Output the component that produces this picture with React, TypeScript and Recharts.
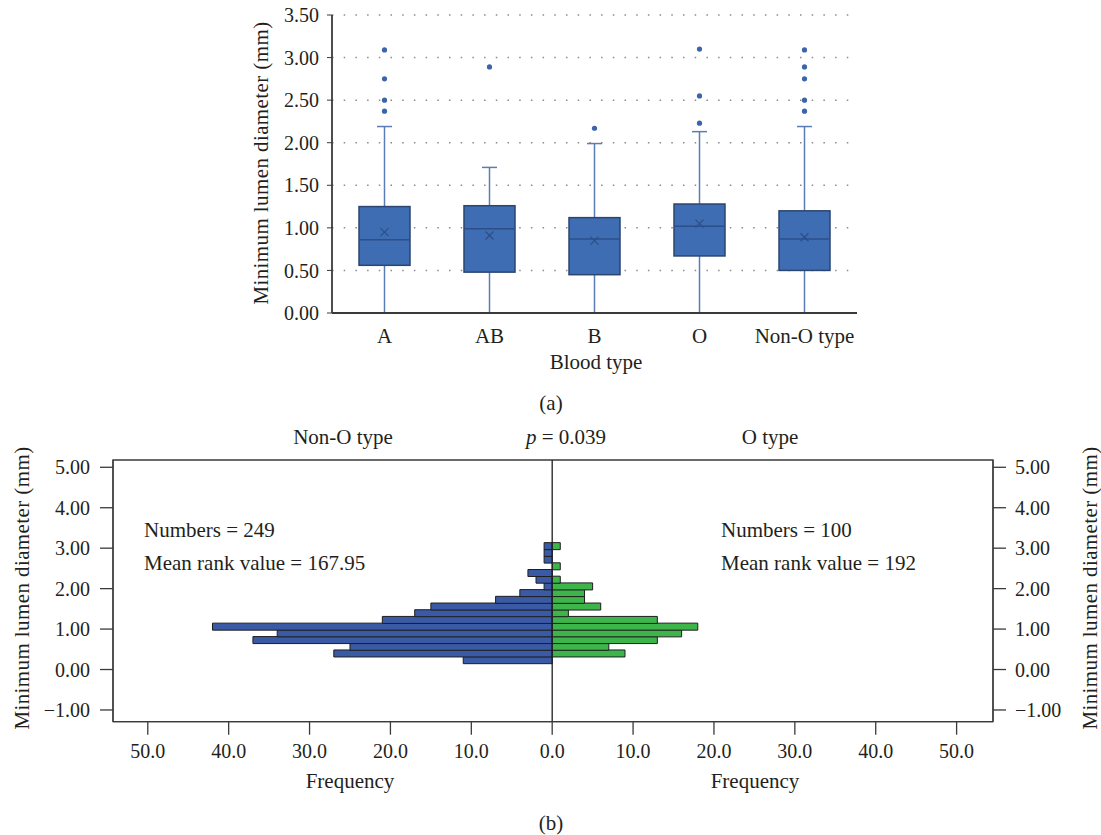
import React from "react";
import {
  Bar,
  CartesianGrid,
  ComposedChart,
  ReferenceArea,
  ReferenceLine,
  XAxis,
  YAxis,
} from "recharts";

// (a) box plot per blood type
const bloodTypes = ["A", "AB", "B", "O", "Non-O type"];
const whiskerLow = [0, 0, 0, 0, 0];
const quartile1 = [0.56, 0.48, 0.45, 0.67, 0.5];
const medians = [0.86, 0.99, 0.87, 1.02, 0.87];
const quartile3 = [1.25, 1.26, 1.12, 1.28, 1.2];
const whiskerHigh = [2.19, 1.71, 1.99, 2.13, 2.19];
const means = [0.95, 0.91, 0.85, 1.05, 0.89];
const outliers = [
  [2.37, 2.5, 2.75, 3.09],
  [2.89],
  [2.17],
  [2.23, 2.55, 3.1],
  [2.37, 2.5, 2.75, 2.89, 3.09],
];
const diameterTicks = [0, 0.5, 1, 1.5, 2, 2.5, 3, 3.5];

// (b) back-to-back histogram, bins from bottom to top
const binCenters = [
  0.235, 0.401, 0.567, 0.732, 0.898, 1.064, 1.23, 1.396, 1.561, 1.727, 1.893,
  2.059, 2.225, 2.39, 2.556, 2.722, 2.888, 3.054,
];
const nonOCounts = [11, 27, 25, 37, 34, 42, 21, 17, 15, 7, 4, 1, 2, 3, 0, 1, 1, 1];
const oCounts = [0, 9, 7, 13, 16, 18, 13, 2, 6, 4, 4, 5, 1, 0, 1, 0, 0, 1];
const histDiameterTicks = [-1, 0, 1, 2, 3, 4, 5];
const frequencyTicks = [-50, -40, -30, -20, -10, 0, 10, 20, 30, 40, 50];

const boxData = bloodTypes.map((name, i) => ({
  name,
  range: [whiskerLow[i], whiskerHigh[i]],
  q1: quartile1[i],
  median: medians[i],
  q3: quartile3[i],
  mean: means[i],
  outliers: outliers[i],
}));

const histData = binCenters.map((bin, i) => ({
  bin,
  nonO: nonOCounts[i],
  o: oCounts[i],
}));

const FONT = "'Liberation Serif', 'Times New Roman', serif";
const INK = "#231f20";
const AXIS = "#3a3a3a";

const fmtDiameter = (v: number) =>
  v < 0 ? "\u2212" + Math.abs(v).toFixed(2) : v.toFixed(2);

function BoxShape(props: any) {
  const { x, y, width, height, payload } = props;
  if (x == null || y == null || !payload) return <g />;
  const [lo, hi] = payload.range;
  const top = Math.min(y, y + height);
  const h = Math.abs(height);
  const k = h / (hi - lo);
  const py = (v: number) => top + h - (v - lo) * k;
  const cx = x + width / 2;
  const bw = 51;
  const cap = 15;
  const yq1 = py(payload.q1);
  const yq3 = py(payload.q3);
  const ym = py(payload.mean);
  return (
    <g>
      <line x1={cx} x2={cx} y1={py(hi)} y2={yq3} stroke="#5b7db5" strokeWidth={1.5} />
      <line x1={cx} x2={cx} y1={yq1} y2={py(lo)} stroke="#5b7db5" strokeWidth={1.5} />
      <line x1={cx - cap / 2} x2={cx + cap / 2} y1={py(hi)} y2={py(hi)} stroke="#5b7db5" strokeWidth={1.5} />
      <rect x={cx - bw / 2} y={yq3} width={bw} height={yq1 - yq3} fill="#3e6db3" stroke="#2a4670" strokeWidth={1.5} />
      <line
        x1={cx - bw / 2}
        x2={cx + bw / 2}
        y1={py(payload.median)}
        y2={py(payload.median)}
        stroke="#2c4f8a"
        strokeWidth={1.5}
      />
      <line x1={cx - 4} x2={cx + 4} y1={ym - 4} y2={ym + 4} stroke="#2c4f8a" strokeWidth={1.3} />
      <line x1={cx - 4} x2={cx + 4} y1={ym + 4} y2={ym - 4} stroke="#2c4f8a" strokeWidth={1.3} />
      {payload.outliers.map((v: number, j: number) => (
        <circle key={j} cx={cx} cy={py(v)} r={2.6} fill="#3a65ab" />
      ))}
    </g>
  );
}

function Txt({
  x,
  y,
  children,
  rotate = false,
  align = "center",
  size = 21,
  spacing = 0,
}: {
  x: number;
  y: number;
  children: React.ReactNode;
  rotate?: boolean;
  align?: "center" | "left";
  size?: number;
  spacing?: number;
}) {
  const tx = align === "center" ? "-50%" : "0";
  return (
    <div
      style={{
        position: "absolute",
        left: x,
        top: y,
        transform: `translate(${tx}, -50%)${rotate ? " rotate(-90deg)" : ""}`,
        fontFamily: FONT,
        fontSize: size,
        letterSpacing: spacing,
        lineHeight: 1,
        color: INK,
        whiteSpace: "nowrap",
      }}
    >
      {children}
    </div>
  );
}

export default function App() {
  const tickStyle = { fill: INK, fontFamily: FONT, fontSize: 20 };
  return (
    <div
      style={{
        position: "absolute",
        left: 0,
        top: 0,
        width: 1101,
        height: 835,
        background: "#fff",
        overflow: "hidden",
      }}
    >
      <div style={{ position: "absolute", left: 0, top: 0 }}>
        <ComposedChart
          width={1101}
          height={360}
          data={boxData}
          margin={{ top: 15, right: 244, bottom: 0, left: 272 }}
        >
          <CartesianGrid
            vertical={false}
            stroke="#8a8a8a"
            strokeWidth={1.5}
            strokeDasharray="1.5 10.2"
          />
          <XAxis
            dataKey="name"
            height={47}
            tickLine={false}
            tickMargin={9}
            axisLine={{ stroke: AXIS, strokeWidth: 1.8 }}
            tick={{ ...tickStyle, fontSize: 21 }}
          />
          <YAxis
            type="number"
            domain={[0, 3.5]}
            ticks={diameterTicks}
            width={60}
            tickSize={5}
            tickMargin={8}
            tickFormatter={(v: number) => v.toFixed(2)}
            axisLine={{ stroke: AXIS, strokeWidth: 1.8 }}
            tickLine={{ stroke: AXIS }}
            tick={tickStyle}
          />
          <Bar dataKey="range" shape={BoxShape} isAnimationActive={false} />
        </ComposedChart>
      </div>

      <div style={{ position: "absolute", left: 0, top: 420 }}>
        <ComposedChart
          width={1101}
          height={345}
          layout="vertical"
          data={histData}
          barCategoryGap={0}
          margin={{ top: 40, right: 38, bottom: 0, left: 40 }}
        >
          <XAxis
            type="number"
            domain={[-54.3, 54.5]}
            ticks={frequencyTicks}
            height={43.3}
            tickSize={13}
            tickMargin={9}
            tickFormatter={(v: number) => Math.abs(v).toFixed(1)}
            axisLine={{ stroke: AXIS, strokeWidth: 1.3 }}
            tickLine={{ stroke: AXIS, strokeWidth: 1.3 }}
            tick={tickStyle}
          />
          <YAxis
            type="number"
            dataKey="bin"
            reversed
            domain={[-1.29, 5.18]}
            ticks={histDiameterTicks}
            width={73}
            tickSize={13}
            tickMargin={10}
            tickFormatter={fmtDiameter}
            axisLine={{ stroke: AXIS, strokeWidth: 1.3 }}
            tickLine={{ stroke: AXIS, strokeWidth: 1.3 }}
            tick={tickStyle}
          />
          <YAxis
            yAxisId="r"
            orientation="right"
            type="number"
            dataKey="bin"
            reversed
            domain={[-1.29, 5.18]}
            ticks={histDiameterTicks}
            width={70}
            tickSize={13}
            tickMargin={9}
            tickFormatter={fmtDiameter}
            axisLine={{ stroke: AXIS, strokeWidth: 1.3 }}
            tickLine={{ stroke: AXIS, strokeWidth: 1.3 }}
            tick={tickStyle}
          />
          <ReferenceArea
            x1={-54.3}
            x2={54.5}
            y1={-1.29}
            y2={5.18}
            fill="none"
            stroke={AXIS}
            strokeWidth={1.3}
            fillOpacity={0}
          />
          <Bar
            dataKey={(d: { nonO: number }) => -d.nonO}
            fill="#3b5aa6"
            stroke="#1e1e1e"
            strokeWidth={1}
            isAnimationActive={false}
          />
          <Bar
            yAxisId="r"
            dataKey="o"
            fill="#3db54a"
            stroke="#1e1e1e"
            strokeWidth={1}
            isAnimationActive={false}
          />
          <ReferenceLine x={0} stroke="#1e1e1e" strokeWidth={1.3} />
        </ComposedChart>
      </div>

      <Txt x={261} y={163} rotate spacing={0.4}>
        Minimum lumen diameter (mm)
      </Txt>
      <Txt x={596} y={362}>Blood type</Txt>
      <Txt x={551} y={403}>(a)</Txt>

      <Txt x={343} y={437}>Non-O type</Txt>
      <Txt x={566} y={437}>
        <i>p</i> = 0.039
      </Txt>
      <Txt x={770} y={437}>O type</Txt>

      <Txt x={144} y={530} align="left">Numbers = 249</Txt>
      <Txt x={144} y={563} align="left">Mean rank value = 167.95</Txt>
      <Txt x={721} y={530} align="left">Numbers = 100</Txt>
      <Txt x={721} y={563} align="left">Mean rank value = 192</Txt>

      <Txt x={22} y={588} rotate spacing={0.4}>
        Minimum lumen diameter (mm)
      </Txt>
      <Txt x={1090} y={588} rotate spacing={0.4}>
        Minimum lumen diameter (mm)
      </Txt>

      <Txt x={350} y={781}>Frequency</Txt>
      <Txt x={755} y={781}>Frequency</Txt>
      <Txt x={551} y={823}>(b)</Txt>
    </div>
  );
}
